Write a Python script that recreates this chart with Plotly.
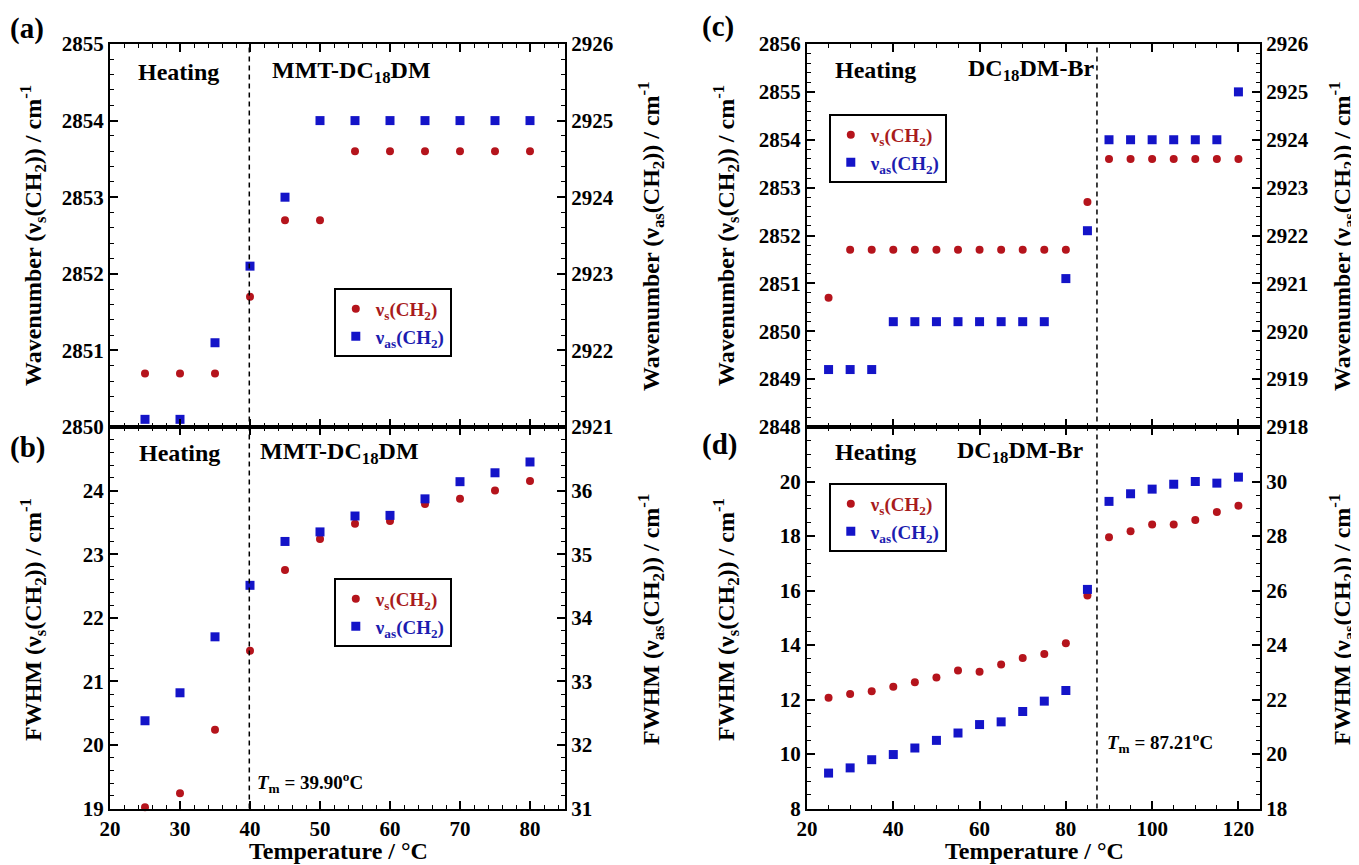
import plotly.graph_objects as go

# ---------------- data ----------------
T_ab = [25, 30, 35, 40, 45, 50, 55, 60, 65, 70, 75, 80]
a_vs = [2850.7, 2850.7, 2850.7, 2851.7, 2852.7, 2852.7, 2853.6, 2853.6, 2853.6, 2853.6, 2853.6, 2853.6]
a_vas = [2921.1, 2921.1, 2922.1, 2923.1, 2924.0, 2925.0, 2925.0, 2925.0, 2925.0, 2925.0, 2925.0, 2925.0]
b_vs = [19.02, 19.24, 20.24, 21.48, 22.75, 23.24, 23.48, 23.52, 23.79, 23.87, 24.00, 24.15]
b_vas = [32.38, 32.82, 33.70, 34.51, 35.20, 35.35, 35.60, 35.61, 35.87, 36.14, 36.28, 36.45]

T_cd = [25, 30, 35, 40, 45, 50, 55, 60, 65, 70, 75, 80, 85, 90, 95, 100, 105, 110, 115, 120]
c_vs = [2850.7, 2851.7, 2851.7, 2851.7, 2851.7, 2851.7, 2851.7, 2851.7, 2851.7, 2851.7,
        2851.7, 2851.7, 2852.7, 2853.6, 2853.6, 2853.6, 2853.6, 2853.6, 2853.6, 2853.6]
c_vas = [2919.2, 2919.2, 2919.2, 2920.2, 2920.2, 2920.2, 2920.2, 2920.2, 2920.2, 2920.2,
         2920.2, 2921.1, 2922.1, 2924.0, 2924.0, 2924.0, 2924.0, 2924.0, 2924.0, 2925.0]
d_vs = [12.06, 12.20, 12.30, 12.47, 12.63, 12.81, 13.06, 13.02, 13.28, 13.52,
        13.67, 14.06, 15.82, 17.95, 18.17, 18.42, 18.42, 18.59, 18.88, 19.11]
d_vas = [19.30, 19.49, 19.79, 19.98, 20.22, 20.50, 20.77, 21.08, 21.18, 21.56,
         21.94, 22.33, 26.04, 29.27, 29.55, 29.72, 29.90, 30.00, 29.94, 30.16]

Tm_ab = 39.90
Tm_cd = 87.21

x_ticks_ab = [20, 30, 40, 50, 60, 70, 80]
x_ticks_cd = [20, 40, 60, 80, 100, 120]
ya_left_ticks = [2850, 2851, 2852, 2853, 2854, 2855]
ya_right_ticks = [2921, 2922, 2923, 2924, 2925, 2926]
yb_left_ticks = [19, 20, 21, 22, 23, 24]
yb_right_ticks = [31, 32, 33, 34, 35, 36]
yc_left_ticks = [2848, 2849, 2850, 2851, 2852, 2853, 2854, 2855, 2856]
yc_right_ticks = [2918, 2919, 2920, 2921, 2922, 2923, 2924, 2925, 2926]
yd_left_ticks = [8, 10, 12, 14, 16, 18, 20]
yd_right_ticks = [18, 20, 22, 24, 26, 28, 30]

# ---------------- styling ----------------
PAGE_OFF = 8                     # default body margin of the html page
W, H = 1359 - PAGE_OFF, 865 - PAGE_OFF
RED = "#b5141c"
BLUE = "#1414c8"
RED_T = "#a81c1c"
BLUE_T = "#1c1cb0"
FONT = "Liberation Serif"

def px(x):
    return (x - PAGE_OFF) / W

def py(y):
    return 1 - (y - PAGE_OFF) / H

XL = [px(110), px(565)]
XR = [px(807), px(1260)]
YT = [py(427), py(44)]
YB = [py(808.5), py(427)]

NAME_S = f'<span style="color:{RED_T}">ν<sub>s</sub>(CH<sub>2</sub>)</span>'
NAME_AS = f'<span style="color:{BLUE_T}">ν<sub>as</sub>(CH<sub>2</sub>)</span>'

fig = go.Figure()

def add_pair(T, ys, yas, xa, ya1, ya2, leg):
    fig.add_trace(go.Scatter(x=T, y=ys, mode="markers", name=NAME_S, xaxis=xa, yaxis=ya1,
                             legend=leg, cliponaxis=False,
                             marker=dict(symbol="circle", size=8, color=RED)))
    fig.add_trace(go.Scatter(x=T, y=yas, mode="markers", name=NAME_AS, xaxis=xa, yaxis=ya2,
                             legend=leg, cliponaxis=False,
                             marker=dict(symbol="square", size=9, color=BLUE)))

add_pair(T_ab, a_vs, a_vas, "x", "y", "y2", "legend")
add_pair(T_ab, b_vs, b_vas, "x2", "y3", "y4", "legend2")
add_pair(T_cd, c_vs, c_vas, "x3", "y5", "y6", "legend3")
add_pair(T_cd, d_vs, d_vas, "x4", "y7", "y8", "legend4")

def xaxis(domain, anchor, rng, tickvals, minor_dtick, labels):
    return dict(domain=domain, anchor=anchor, range=rng, tickmode="array", tickvals=tickvals,
                showticklabels=labels, ticks="inside", ticklen=8, tickwidth=1.6, tickcolor="black",
                showline=True, linewidth=2, linecolor="black", mirror="ticks",
                showgrid=False, zeroline=False, automargin=False,
                tickfont=dict(size=21, family=FONT, color="black", weight="bold"),
                minor=dict(tick0=20, dtick=minor_dtick, ticks="inside", ticklen=4,
                           tickwidth=1.3, tickcolor="black", showgrid=False))

def yaxis(domain, anchor, rng, tickvals, minor_dtick, side="left", overlaying=None):
    d = dict(domain=domain, anchor=anchor, range=rng, tickmode="array", tickvals=tickvals,
             side=side, ticks="inside", ticklen=8, tickwidth=1.6, tickcolor="black",
             showline=True, linewidth=2, linecolor="black",
             showgrid=False, zeroline=False, automargin=False,
             tickfont=dict(size=21, family=FONT, color="black", weight="bold"),
             minor=dict(tick0=rng[0], dtick=minor_dtick, ticks="inside", ticklen=4,
                        tickwidth=1.3, tickcolor="black", showgrid=False))
    if overlaying:
        d["overlaying"] = overlaying
    return d

def legend(x, y):
    return dict(x=px(x), y=py(y), xanchor="left", yanchor="top", bgcolor="white",
                bordercolor="black", borderwidth=1.8, traceorder="normal",
                font=dict(size=19, family=FONT, weight="bold"), itemsizing="trace")

fig.update_layout(
    width=W, height=H, margin=dict(l=0, r=0, t=0, b=0),
    paper_bgcolor="white", plot_bgcolor="white",
    font=dict(family=FONT, size=21, color="black", weight="bold"),
    xaxis=xaxis(XL, "y", [20, 85], x_ticks_ab, 2, False),
    xaxis2=xaxis(XL, "y3", [20, 85], x_ticks_ab, 2, True),
    xaxis3=xaxis(XR, "y5", [20, 125], x_ticks_cd, 5, False),
    xaxis4=xaxis(XR, "y7", [20, 125], x_ticks_cd, 5, True),
    yaxis=yaxis(YT, "x", [2850, 2855], ya_left_ticks, 0.2),
    yaxis2=yaxis(YT, "x", [2921, 2926], ya_right_ticks, 0.2, "right", "y"),
    yaxis3=yaxis(YB, "x2", [19, 25], yb_left_ticks, 0.2),
    yaxis4=yaxis(YB, "x2", [31, 37], yb_right_ticks, 0.2, "right", "y3"),
    yaxis5=yaxis(YT, "x3", [2848, 2856], yc_left_ticks, 0.2),
    yaxis6=yaxis(YT, "x3", [2918, 2926], yc_right_ticks, 0.2, "right", "y5"),
    yaxis7=yaxis(YB, "x4", [8, 22], yd_left_ticks, 0.5),
    yaxis8=yaxis(YB, "x4", [18, 32], yd_right_ticks, 0.5, "right", "y7"),
    legend=legend(334, 288),
    legend2=legend(334, 578),
    legend3=legend(829, 114),
    legend4=legend(829, 483),
)

# dashed transition lines
for xref, xv in (("x", Tm_ab), ("x3", Tm_cd)):
    fig.add_shape(type="line", xref=xref, yref="paper", x0=xv, x1=xv,
                  y0=YB[0], y1=YT[1], line=dict(color="black", width=1.5, dash="5px,4px"))

def ann(text, x, y, size, xanchor="left", angle=0, yanchor="middle"):
    fig.add_annotation(text=text, x=px(x), y=py(y), xref="paper", yref="paper",
                       xanchor=xanchor, yanchor=yanchor, showarrow=False, textangle=angle,
                       font=dict(size=size, family=FONT, color="black", weight="bold"))

# panel labels
ann("(a)", 8, 28, 29)
ann("(b)", 8, 447, 29)
ann("(c)", 700, 26, 29)
ann("(d)", 700, 444, 29)

# in-panel labels
ann("Heating", 178, 72, 24, "center")
ann("MMT-DC<sub>18</sub>DM", 270, 72, 24)
ann("Heating", 179, 453, 24, "center")
ann("MMT-DC<sub>18</sub>DM", 258, 453, 24)
ann("<i>T</i><sub>m</sub> = 39.90<sup>o</sup>C", 255, 782, 19)
ann("Heating", 875, 70, 24, "center")
ann("DC<sub>18</sub>DM-Br", 966, 70, 24)
ann("Heating", 876, 452, 24, "center")
ann("DC<sub>18</sub>DM-Br", 955, 452, 24)
ann("<i>T</i><sub>m</sub> = 87.21<sup>o</sup>C", 1105, 742, 19)

# axis titles
ann("Wavenumber (ν<sub>s</sub>(CH<sub>2</sub>)) / cm<sup>-1</sup>", 33, 236, 24, "center", -90)
ann("Wavenumber (ν<sub>as</sub>(CH<sub>2</sub>)) / cm<sup>-1</sup>", 651, 236, 24, "center", -90)
ann("FWHM (ν<sub>s</sub>(CH<sub>2</sub>)) / cm<sup>-1</sup>", 33, 620, 24, "center", -90)
ann("FWHM (ν<sub>as</sub>(CH<sub>2</sub>)) / cm<sup>-1</sup>", 651, 620, 24, "center", -90)
ann("Wavenumber (ν<sub>s</sub>(CH<sub>2</sub>)) / cm<sup>-1</sup>", 726, 236, 24, "center", -90)
ann("Wavenumber (ν<sub>as</sub>(CH<sub>2</sub>)) / cm<sup>-1</sup>", 1342, 236, 24, "center", -90)
ann("FWHM (ν<sub>s</sub>(CH<sub>2</sub>)) / cm<sup>-1</sup>", 726, 620, 24, "center", -90)
ann("FWHM (ν<sub>as</sub>(CH<sub>2</sub>)) / cm<sup>-1</sup>", 1342, 620, 24, "center", -90)
ann("Temperature / °C", 338, 866, 24, "center", 0, "bottom")
ann("Temperature / °C", 1034, 866, 24, "center", 0, "bottom")

fig.write_html("out.html")
